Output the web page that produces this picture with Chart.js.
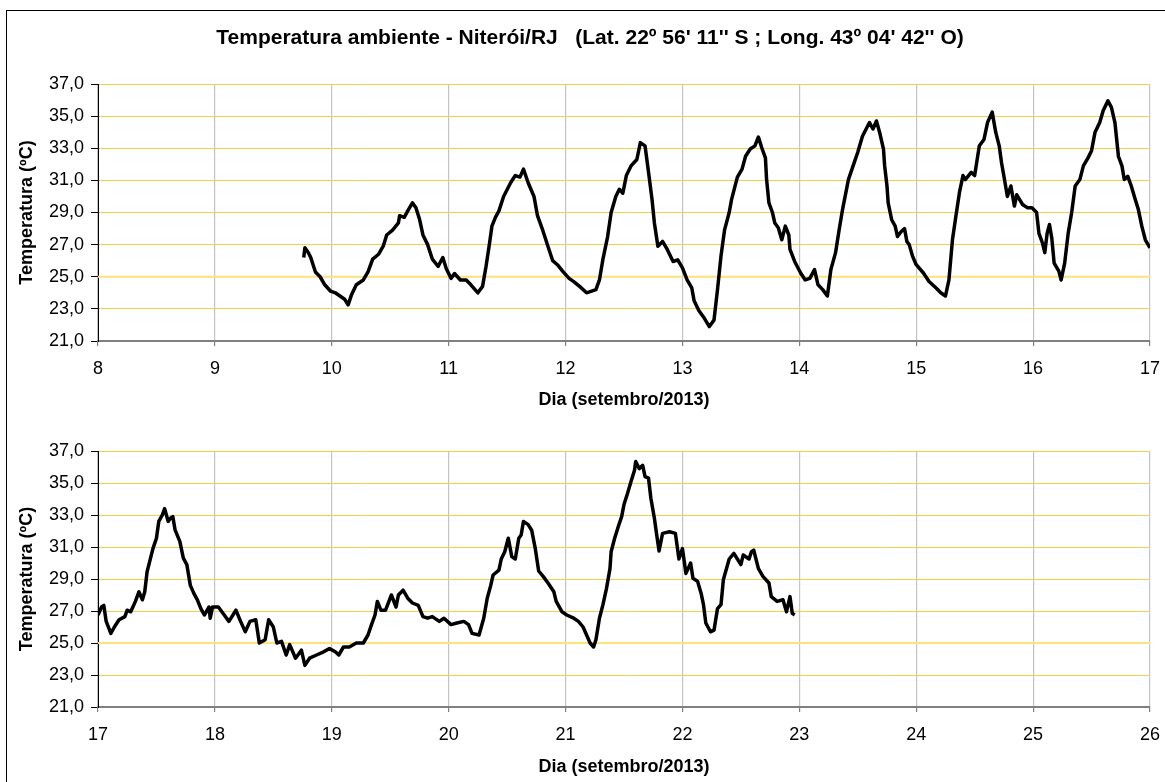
<!DOCTYPE html>
<html>
<head>
<meta charset="utf-8">
<script src="https://cdn.jsdelivr.net/npm/chart.js@4.4.1/dist/chart.umd.min.js"></script>
<style>
    body { margin: 0; background: #fff; overflow: hidden; width: 1165px; height: 782px; position: relative; }
    #frame { position: absolute; left: 6px; top: 10px; width: 1200px; height: 800px; border: 1px solid #000; }
    #top, #bottom { position: absolute; left: 0; }
    #top { top: 0; }
    #bottom { top: 420px; }
</style>
</head>
<body>
<div id="frame"></div>
<canvas id="top" width="1172" height="420"></canvas>
<canvas id="bottom" width="1172" height="362"></canvas>
<script>
// readings: day of september 2013 and temperature (ºC)
const topDays = [9.76, 9.77, 9.80, 9.82, 9.86, 9.90, 9.94, 9.99, 10.03, 10.07, 10.11, 10.14, 10.17, 10.21, 10.27, 10.31, 10.35, 10.40, 10.44, 10.47,
    10.52, 10.57, 10.58, 10.62, 10.65, 10.69, 10.72, 10.75, 10.78, 10.82, 10.86, 10.91, 10.95, 10.98, 11.02, 11.05, 11.10, 11.15, 11.19, 11.25,
    11.29, 11.32, 11.35, 11.37, 11.40, 11.43, 11.47, 11.53, 11.57, 11.61, 11.64, 11.68, 11.73, 11.76, 11.80, 11.84, 11.89, 11.93, 11.98, 12.03,
    12.07, 12.12, 12.18, 12.26, 12.29, 12.32, 12.36, 12.39, 12.43, 12.46, 12.49, 12.52, 12.56, 12.61, 12.64, 12.68, 12.71, 12.74, 12.76, 12.79,
    12.83, 12.87, 12.92, 12.96, 13.00, 13.04, 13.08, 13.10, 13.14, 13.18, 13.23, 13.27, 13.30, 13.33, 13.36, 13.40, 13.42, 13.47, 13.51, 13.54,
    13.58, 13.62, 13.65, 13.68, 13.71, 13.72, 13.74, 13.77, 13.79, 13.82, 13.85, 13.88, 13.91, 13.92, 13.96, 14.01, 14.05, 14.09, 14.13, 14.16,
    14.20, 14.24, 14.27, 14.31, 14.34, 14.37, 14.42, 14.46, 14.50, 14.54, 14.60, 14.63, 14.66, 14.69, 14.72, 14.73, 14.75, 14.76, 14.79, 14.82,
    14.84, 14.87, 14.90, 14.92, 14.94, 14.97, 15.00, 15.06, 15.11, 15.17, 15.21, 15.25, 15.28, 15.31, 15.34, 15.37, 15.40, 15.42, 15.47, 15.50,
    15.54, 15.58, 15.61, 15.65, 15.68, 15.71, 15.73, 15.76, 15.78, 15.81, 15.84, 15.86, 15.91, 15.95, 15.99, 16.03, 16.05, 16.08, 16.10, 16.12,
    16.14, 16.16, 16.18, 16.22, 16.24, 16.27, 16.30, 16.33, 16.36, 16.40, 16.43, 16.47, 16.50, 16.53, 16.57, 16.60, 16.64, 16.67, 16.70, 16.73,
    16.76, 16.78, 16.81, 16.84, 16.87, 16.90, 16.93, 16.96, 17.00];
const topTemps = [26.2, 26.8, 26.5, 26.2, 25.3, 25.0, 24.5, 24.1, 24.0, 23.8, 23.6, 23.25, 23.9, 24.5, 24.8, 25.3, 26.1, 26.4, 26.9, 27.6,
    27.9, 28.35, 28.8, 28.7, 29.1, 29.6, 29.3, 28.6, 27.6, 27.0, 26.1, 25.65, 26.2, 25.5, 24.9, 25.2, 24.8, 24.8, 24.5, 24.0,
    24.4, 25.65, 27.1, 28.15, 28.7, 29.1, 30.0, 30.85, 31.3, 31.2, 31.7, 30.85, 30.0, 28.8, 28.0, 27.1, 26.0, 25.75, 25.3, 24.9,
    24.7, 24.4, 24.0, 24.2, 24.8, 26.1, 27.5, 29.0, 30.0, 30.45, 30.2, 31.3, 31.9, 32.3, 33.35, 33.15, 31.5, 29.8, 28.35, 26.9,
    27.2, 26.7, 25.95, 26.05, 25.55, 24.8, 24.3, 23.5, 22.9, 22.5, 21.9, 22.3, 24.2, 26.3, 27.9, 29.0, 29.8, 31.2, 31.7, 32.5,
    32.95, 33.15, 33.7, 33.0, 32.4, 31.05, 29.6, 29.0, 28.35, 28.05, 27.3, 28.15, 27.6, 26.7, 25.95, 25.25, 24.8, 24.9, 25.45, 24.5,
    24.2, 23.8, 25.45, 26.5, 27.9, 29.2, 31.05, 31.9, 32.75, 33.75, 34.6, 34.2, 34.7, 33.9, 32.95, 31.9, 30.65, 29.6, 28.55, 28.15,
    27.5, 27.8, 28.0, 27.2, 27.0, 26.25, 25.75, 25.25, 24.7, 24.3, 24.0, 23.8, 24.8, 27.3, 28.8, 30.25, 31.3, 31.05, 31.5, 31.3,
    33.15, 33.55, 34.6, 35.25, 34.0, 33.15, 32.1, 30.85, 30.0, 30.65, 29.4, 30.1, 29.5, 29.3, 29.3, 29.0, 27.7, 27.1, 26.5, 27.7,
    28.25, 27.4, 25.85, 25.35, 24.8, 25.85, 27.7, 29.0, 30.65, 31.05, 31.9, 32.4, 32.85, 34.0, 34.6, 35.35, 35.95, 35.55, 34.6, 32.5,
    31.9, 31.05, 31.25, 30.65, 29.9, 29.2, 28.15, 27.3, 26.8];

const bottomDays = [17.00, 17.03, 17.05, 17.07, 17.11, 17.14, 17.18, 17.23, 17.25, 17.28, 17.32, 17.35, 17.38, 17.40, 17.42, 17.47, 17.50, 17.52, 17.55, 17.57,
    17.60, 17.62, 17.64, 17.66, 17.70, 17.73, 17.76, 17.79, 17.82, 17.85, 17.88, 17.91, 17.95, 17.96, 17.98, 18.03, 18.08, 18.12, 18.18, 18.22,
    18.26, 18.30, 18.35, 18.38, 18.43, 18.46, 18.50, 18.53, 18.57, 18.61, 18.64, 18.69, 18.74, 18.77, 18.81, 18.87, 18.93, 18.98, 19.03, 19.06,
    19.10, 19.15, 19.21, 19.27, 19.31, 19.34, 19.37, 19.39, 19.42, 19.46, 19.51, 19.55, 19.57, 19.61, 19.65, 19.69, 19.74, 19.78, 19.82, 19.86,
    19.92, 19.96, 20.02, 20.07, 20.13, 20.17, 20.20, 20.26, 20.30, 20.33, 20.36, 20.38, 20.43, 20.45, 20.48, 20.51, 20.54, 20.57, 20.60, 20.62,
    20.64, 20.68, 20.71, 20.74, 20.77, 20.81, 20.85, 20.90, 20.92, 20.97, 21.01, 21.07, 21.11, 21.15, 21.18, 21.21, 21.24, 21.26, 21.29, 21.32,
    21.35, 21.38, 21.39, 21.42, 21.45, 21.48, 21.50, 21.53, 21.56, 21.59, 21.60, 21.63, 21.66, 21.68, 21.71, 21.73, 21.76, 21.78, 21.80, 21.83,
    21.89, 21.94, 21.97, 22.00, 22.03, 22.07, 22.09, 22.13, 22.16, 22.18, 22.20, 22.24, 22.27, 22.30, 22.33, 22.35, 22.40, 22.44, 22.47, 22.50,
    22.52, 22.57, 22.59, 22.61, 22.65, 22.69, 22.74, 22.76, 22.81, 22.86, 22.89, 22.92, 22.94, 22.96];
const bottomTemps = [26.75, 27.25, 27.35, 26.35, 25.6, 26.0, 26.45, 26.65, 27.05, 26.95, 27.6, 28.2, 27.7, 28.2, 29.45, 30.9, 31.55, 32.6, 33.0, 33.4,
    32.6, 32.8, 32.9, 32.05, 31.35, 30.3, 29.9, 28.6, 28.1, 27.7, 27.15, 26.75, 27.25, 26.55, 27.25, 27.25, 26.75, 26.35, 27.05, 26.35,
    25.7, 26.35, 26.45, 25.0, 25.2, 26.45, 26.0, 25.0, 25.1, 24.25, 24.9, 24.05, 24.55, 23.6, 24.05, 24.25, 24.45, 24.65, 24.45, 24.25,
    24.75, 24.75, 25.0, 25.0, 25.5, 26.15, 26.75, 27.6, 27.05, 27.05, 28.0, 27.25, 28.0, 28.3, 27.8, 27.5, 27.35, 26.65, 26.55, 26.65,
    26.35, 26.55, 26.15, 26.25, 26.35, 26.15, 25.6, 25.5, 26.55, 27.8, 28.6, 29.25, 29.55, 30.25, 30.7, 31.55, 30.4, 30.25, 31.55, 31.75,
    32.6, 32.4, 32.05, 30.95, 29.5, 29.15, 28.75, 28.2, 27.6, 26.95, 26.75, 26.55, 26.35, 26.0, 25.5, 25.0, 24.75, 25.2, 26.55, 27.4,
    28.4, 29.65, 30.7, 31.55, 32.25, 32.9, 33.65, 34.35, 35.1, 35.8, 36.35, 35.9, 36.1, 35.4, 35.3, 34.05, 32.8, 31.75, 30.75, 31.85,
    31.95, 31.85, 30.25, 30.9, 29.35, 30.0, 29.05, 28.85, 28.1, 27.4, 26.25, 25.7, 25.8, 27.15, 27.4, 28.95, 30.25, 30.6, 30.25, 29.9,
    30.5, 30.25, 30.7, 30.8, 29.65, 29.15, 28.75, 27.9, 27.6, 27.7, 26.95, 27.9, 26.85, 26.75];

const limitTemp = 25;
const yTicksMin = 21, yTicksMax = 37, yStep = 2;
const topRange = [8, 17];
const bottomRange = [17, 26];

Chart.defaults.font.family = '"Liberation Sans", Arial, sans-serif';
Chart.defaults.color = '#000';

function toPoints(days, temps) {
    return days.map((d, i) => ({ x: d, y: temps[i] }));
}

function makeChart(canvasId, days, temps, range, opts) {
    const ctx = document.getElementById(canvasId);
    return new Chart(ctx, {
        type: 'line',
        data: {
            datasets: [{
                data: toPoints(days, temps),
                borderColor: '#000',
                borderWidth: 3.5,
                pointRadius: 0,
                tension: 0,
                borderJoinStyle: 'round'
            }, {
                // reference line at 25 ºC
                data: [{ x: range[0], y: limitTemp }, { x: range[1], y: limitTemp }],
                borderColor: '#fde27a',
                borderWidth: 2,
                pointRadius: 0
            }]
        },
        options: {
            responsive: false,
            animation: false,
            layout: { padding: { left: 23, right: 15, top: opts.padTop, bottom: 0 } },
            plugins: {
                legend: { display: false },
                tooltip: { enabled: false },
                title: {
                    display: opts.title != null,
                    text: opts.title,
                    font: { size: 21, weight: 'bold' },
                    padding: { top: 25.4, bottom: 33.4 }
                }
            },
            scales: {
                x: {
                    type: 'linear',
                    min: range[0],
                    max: range[1],
                    afterFit: s => { s.height = opts.xHeight; },
                    ticks: { stepSize: 1, font: { size: 18 }, padding: 12, maxRotation: 0 },
                    grid: { color: '#c4c4c4', lineWidth: 1.2, tickColor: '#808080', tickLength: 5 },
                    border: { color: '#808080', width: 2 },
                    title: {
                        display: true,
                        text: 'Dia (setembro/2013)',
                        font: { size: 18, weight: 'bold' },
                        padding: { top: 0, bottom: opts.xTitlePad }
                    }
                },
                y: {
                    min: yTicksMin,
                    max: yTicksMax,
                    afterFit: s => { s.width = 75; },
                    ticks: {
                        stepSize: yStep,
                        font: { size: 18 },
                        padding: 7,
                        callback: v => v.toFixed(1).replace('.', ',')
                    },
                    grid: { color: '#f6cf48', lineWidth: 1, tickColor: '#000', tickLength: 7 },
                    border: { color: '#000', width: 1 },
                    title: {
                        display: true,
                        text: 'Temperatura (ºC)',
                        font: { size: 18, weight: 'bold' },
                        padding: { top: -6.3, bottom: 0 }
                    }
                }
            }
        }
    });
}

makeChart('top', topDays, topTemps, topRange, {
    title: "Temperatura ambiente - Niterói/RJ   (Lat. 22º 56' 11'' S ; Long. 43º 04' 42'' O)",
    padTop: 0, xHeight: 79, xTitlePad: 8.7
});
makeChart('bottom', bottomDays, bottomTemps, bottomRange, {
    title: null,
    padTop: 31, xHeight: 75, xTitlePad: 4.5
});
</script>
</body>
</html>
